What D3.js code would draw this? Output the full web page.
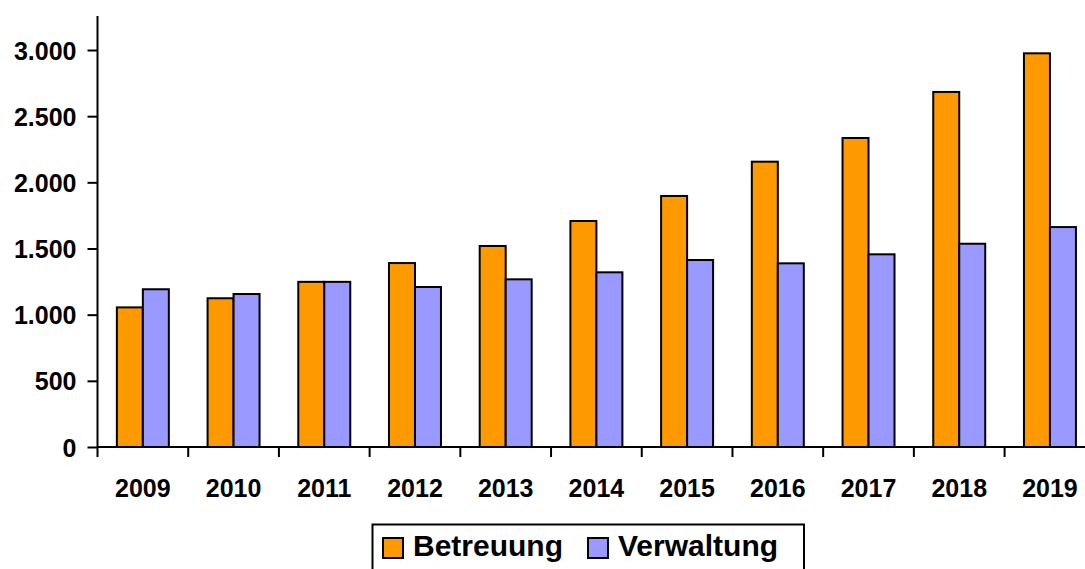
<!DOCTYPE html>
<html>
<head>
<meta charset="utf-8">
<script src="https://cdn.jsdelivr.net/npm/d3@7"></script>
<style>
  body { margin: 0; background: #fff; }
  text { font-family: "Liberation Sans", Arial, sans-serif; font-weight: bold; }
</style>
</head>
<body>
<div id="chart"></div>
<script>
const years = ["2009", "2010", "2011", "2012", "2013", "2014", "2015", "2016", "2017", "2018", "2019"];
const betreuung = [1055, 1124, 1248, 1390, 1519, 1708, 1897, 2156, 2335, 2683, 2975];
const verwaltung = [1192, 1156, 1248, 1209, 1267, 1320, 1413, 1388, 1456, 1536, 1662];
const seriesNames = ["Betreuung", "Verwaltung"];
const yTicks = [0, 500, 1000, 1500, 2000, 2500, 3000];

const W = 1085, H = 569;
const colors = { Betreuung: "#FF9900", Verwaltung: "#9999FF" };

const svg = d3.select("#chart").append("svg")
    .attr("width", W)
    .attr("height", H);

const x0 = d3.scaleBand().domain(years).range([97.5, 1095.3]).padding(0);
const groupW = x0.bandwidth() * 0.573;
const x1 = d3.scaleBand().domain(seriesNames).range([0, groupW]);
const y = d3.scaleLinear().domain([0, 3000]).range([447, 50]);

const fmt = d3.formatLocale({ decimal: ",", thousands: ".", grouping: [3], currency: ["", "€"] }).format(",");

// bars
const rows = years.map((yr, i) => ({ year: yr, Betreuung: betreuung[i], Verwaltung: verwaltung[i] }));

svg.append("g")
    .selectAll("g")
    .data(rows)
    .join("g")
    .attr("transform", d => `translate(${x0(d.year) + (x0.bandwidth() - groupW) / 2},0)`)
    .selectAll("rect")
    .data(d => seriesNames.map(k => ({ key: k, value: d[k] })))
    .join("rect")
    .attr("x", d => x1(d.key))
    .attr("y", d => y(d.value))
    .attr("width", x1.bandwidth())
    .attr("height", d => y(0) - y(d.value))
    .attr("fill", d => colors[d.key])
    .attr("stroke", "#000")
    .attr("stroke-width", 2);

// y axis
const yAxis = svg.append("g")
    .attr("transform", "translate(97.5,0)")
    .call(d3.axisLeft(y).tickValues(yTicks).tickFormat(fmt).tickSize(10).tickPadding(11));
yAxis.select(".domain").remove();
yAxis.selectAll("line").attr("stroke", "#000").attr("stroke-width", 2);
yAxis.selectAll("text").attr("font-size", 25).attr("fill", "#000").attr("dy", "0.36em");

svg.append("line")
    .attr("x1", 97.5).attr("x2", 97.5)
    .attr("y1", 16).attr("y2", 457)
    .attr("stroke", "#000").attr("stroke-width", 2);

// x axis
const xAxis = svg.append("g")
    .attr("transform", `translate(0,${y(0)})`)
    .call(d3.axisBottom(x0).tickSize(0).tickPadding(0));
xAxis.select(".domain").remove();
xAxis.selectAll("text")
    .attr("font-size", 25)
    .attr("fill", "#000")
    .attr("dy", null)
    .attr("y", 50);

svg.append("line")
    .attr("x1", 97.5).attr("x2", W)
    .attr("y1", y(0)).attr("y2", y(0))
    .attr("stroke", "#000").attr("stroke-width", 2);

svg.append("g")
    .selectAll("line")
    .data(years.slice(1))
    .join("line")
    .attr("x1", d => x0(d)).attr("x2", d => x0(d))
    .attr("y1", y(0)).attr("y2", y(0) + 10)
    .attr("stroke", "#000").attr("stroke-width", 2);

// legend
svg.append("rect")
    .attr("x", 372.5).attr("y", 524.5)
    .attr("width", 431.5).attr("height", 60)
    .attr("fill", "#fff")
    .attr("stroke", "#000").attr("stroke-width", 2);

const legendX = [383, 588];
const legend = svg.append("g")
    .selectAll("g")
    .data(seriesNames)
    .join("g")
    .attr("transform", (d, i) => `translate(${legendX[i]},538)`);

legend.append("rect")
    .attr("width", 20).attr("height", 20)
    .attr("fill", d => colors[d])
    .attr("stroke", "#000").attr("stroke-width", 2);

legend.append("text")
    .attr("x", 30).attr("y", 18)
    .attr("font-size", 30)
    .attr("fill", "#000")
    .text(d => d);
</script>
</body>
</html>
